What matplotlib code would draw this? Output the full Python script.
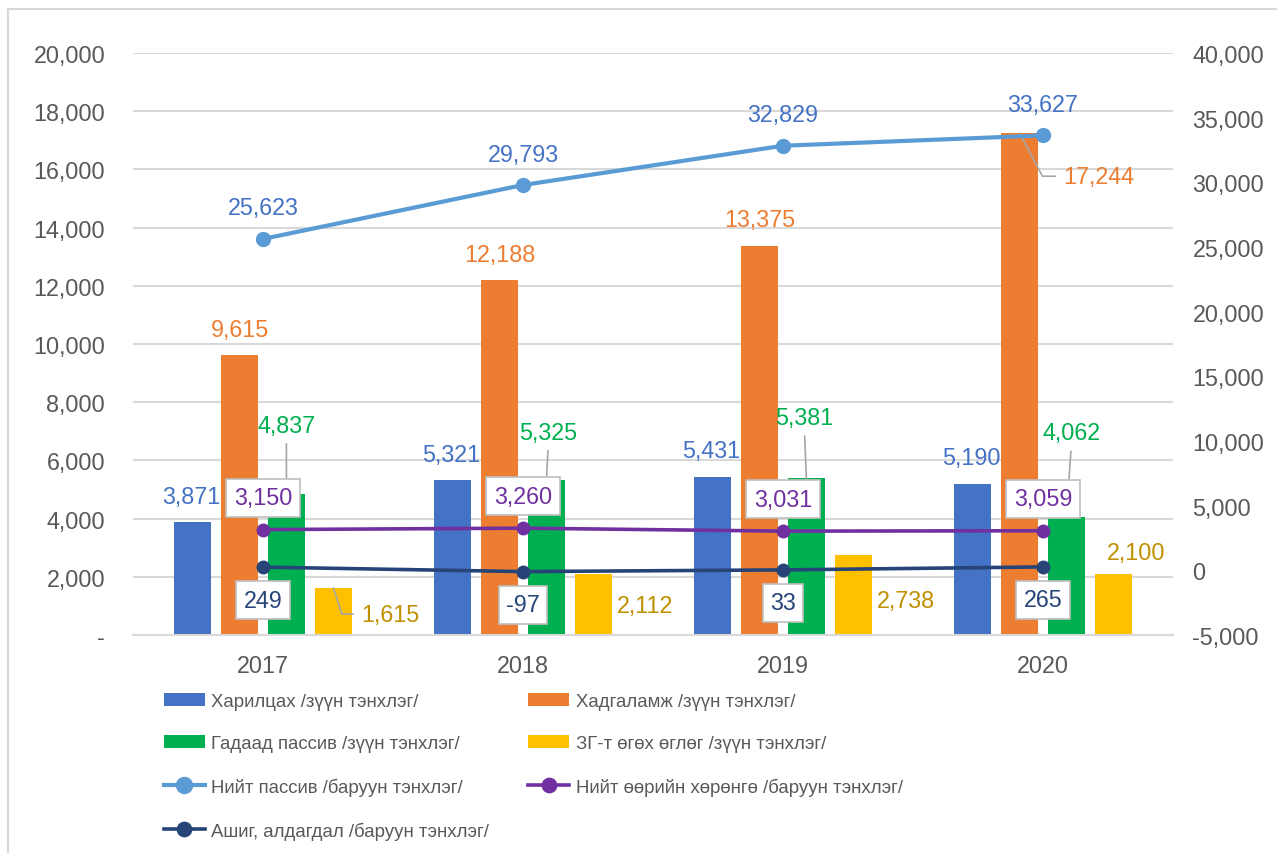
import matplotlib.pyplot as plt
import numpy as np
from matplotlib.lines import Line2D
from matplotlib.ticker import FuncFormatter

plt.rcParams['font.family'] = ['Liberation Sans', 'DejaVu Sans']

years = ['2017', '2018', '2019', '2020']
harilcah = [3871, 5321, 5431, 5190]
hadgalamj = [9615, 12188, 13375, 17244]
gadaad = [4837, 5325, 5381, 4062]
zg_uglug = [1615, 2112, 2738, 2100]
niit_passiv = [25623, 29793, 32829, 33627]
niit_ooriin = [3150, 3260, 3031, 3059]
ashig = [249, -97, 33, 265]

bar_names = ['Харилцах /зүүн тэнхлэг/', 'Хадгаламж /зүүн тэнхлэг/',
             'Гадаад пассив /зүүн тэнхлэг/', 'ЗГ-т өгөх өглөг /зүүн тэнхлэг/']
line_names = ['Нийт пассив /баруун тэнхлэг/', 'Нийт өөрийн хөрөнгө /баруун тэнхлэг/',
              'Ашиг, алдагдал /баруун тэнхлэг/']

c_blue = '#4472C4'
c_orange = '#ED7D31'
c_green = '#00B050'
c_yellow = '#FFC000'
c_lblue = '#5B9BD5'
c_purple = '#7030A0'
c_navy = '#264478'
grid_c = '#D9D9D9'
txt_c = '#595959'
lead_c = '#A6A6A6'
fs = 16.8

fig = plt.figure(figsize=(12.77, 8.54), dpi=100)
ax = fig.add_axes([133 / 1277, 1 - 636 / 854, 1040 / 1277, 582 / 854])
ax2 = ax.twinx()

x = np.arange(len(years))
w = 0.142
offs = [-0.271, -0.09, 0.09, 0.271]
bar_data = [harilcah, hadgalamj, gadaad, zg_uglug]
bar_cols = [c_blue, c_orange, c_green, c_yellow]
bars = []
for d, o, c, n in zip(bar_data, offs, bar_cols, bar_names):
    bars.append(ax.bar(x + o, d, w, color=c, label=n, zorder=2))

ax.set_xlim(-0.5, 3.5)
ax.set_ylim(0, 20000)
ax.set_yticks(np.arange(0, 20001, 2000))
ax.yaxis.set_major_formatter(FuncFormatter(lambda v, p: '-' if v == 0 else f'{v:,.0f}'))
ax.set_xticks(x)
ax.set_xticklabels(years)
ax.grid(axis='y', color=grid_c, lw=1.5, zorder=0)
ax.set_axisbelow(True)
for s in ['top', 'right', 'left']:
    ax.spines[s].set_visible(False)
ax.spines['bottom'].set_color(grid_c)
ax.spines['bottom'].set_linewidth(1.5)
ax.tick_params(axis='y', length=0, pad=20, labelsize=fs, labelcolor=txt_c)
ax.tick_params(axis='x', length=0, pad=14, labelsize=fs, labelcolor=txt_c)

ax2.set_ylim(-5000, 40000)
ax2.set_yticks(np.arange(-5000, 40001, 5000))
ax2.yaxis.set_major_formatter(FuncFormatter(lambda v, p: f'{v:,.0f}'))
for s in ['top', 'right', 'left', 'bottom']:
    ax2.spines[s].set_visible(False)
ax2.tick_params(axis='y', length=0, pad=14, labelsize=fs, labelcolor=txt_c)

l1, = ax2.plot(x, niit_passiv, color=c_lblue, lw=3, marker='o', ms=10, label=line_names[0], zorder=3)
l2, = ax2.plot(x, niit_ooriin, color=c_purple, lw=2.6, marker='o', ms=9, label=line_names[1], zorder=3)
l3, = ax2.plot(x, ashig, color=c_navy, lw=2.6, marker='o', ms=9, label=line_names[2], zorder=3)

# bar value labels (pixel offsets from bar top)
lead = dict(arrowstyle='-', color=lead_c, lw=1.2, shrinkA=3, shrinkB=0)
for i in range(4):
    ax.annotate(f'{harilcah[i]:,}', (x[i] + offs[0], harilcah[i]), xytext=(-1, 26),
                textcoords='offset pixels', ha='center', va='center', color=c_blue, fontsize=fs)
for i in range(3):
    ax.annotate(f'{hadgalamj[i]:,}', (x[i] + offs[1], hadgalamj[i]), xytext=(0, 26),
                textcoords='offset pixels', ha='center', va='center', color=c_orange, fontsize=fs)
# 2020 sits right of the bar with a leader
ax.annotate(f'{hadgalamj[3]:,}', (x[3] + offs[1], hadgalamj[3]), xytext=(44, -43),
            textcoords='offset pixels', ha='left', va='center', color=c_orange, fontsize=fs,
            arrowprops=dict(lead, relpos=(0, 0.5), shrinkA=4,
                            connectionstyle='angle,angleA=0,angleB=-62,rad=0'))

green_off = [(0, 69), (2, 48), (-2, 61), (5, 84)]
for i in range(4):
    ax.annotate(f'{gadaad[i]:,}', (x[i] + offs[2], gadaad[i]), xytext=green_off[i],
                textcoords='offset pixels', ha='center', va='center', color=c_green, fontsize=fs,
                arrowprops=dict(lead, relpos=(0.5, 0)))

yc = '#BF9000'
ax.annotate(f'{zg_uglug[0]:,}', (x[0] + offs[3], zg_uglug[0]), xytext=(28, -26),
            textcoords='offset pixels', ha='left', va='center', color=yc, fontsize=fs,
            arrowprops=dict(lead, relpos=(0, 0.5), shrinkA=4,
                            connectionstyle='angle,angleA=0,angleB=-72,rad=0'))
yel_off = [None, (52, -32), (52, -45), (23, 21)]
for i in range(1, 4):
    ax.annotate(f'{zg_uglug[i]:,}', (x[i] + offs[3], zg_uglug[i]), xytext=yel_off[i],
                textcoords='offset pixels', ha='center', va='center', color=yc, fontsize=fs)

# line labels
for i in range(4):
    ax2.annotate(f'{niit_passiv[i]:,}', (x[i], niit_passiv[i]), xytext=(0, 31),
                 textcoords='offset pixels', ha='center', va='center', color=c_blue, fontsize=fs)
box = dict(boxstyle='square,pad=0.32', fc='white', ec='#BFBFBF', lw=1.2)
for i in range(4):
    ax2.annotate(f'{niit_ooriin[i]:,}', (x[i], niit_ooriin[i]), xytext=(0, 32),
                 textcoords='offset pixels', ha='center', va='center', color=c_purple,
                 fontsize=fs, bbox=box, zorder=5)
    ax2.annotate(f'{ashig[i]:,}', (x[i], ashig[i]), xytext=(0, -33),
                 textcoords='offset pixels', ha='center', va='center', color=c_navy,
                 fontsize=fs, bbox=box, zorder=5)

handles = [bars[0], bars[2], l1, l3, bars[1], bars[3], l2]
fig.legend(handles=handles, labels=[h.get_label() for h in handles], ncol=2,
           loc='upper left', bbox_to_anchor=(164 / 1277, 1 - 694 / 854), frameon=False,
           fontsize=13.4, labelcolor=txt_c, markerscale=1.15,
           handlelength=2.2, handletextpad=0.35, columnspacing=2.1,
           labelspacing=1.36, borderpad=0, borderaxespad=0)

# chart border
fig.add_artist(Line2D([8 / 1277, 8 / 1277], [0, 1 - 10 / 854], color='#D9D9D9', lw=1.5))
fig.add_artist(Line2D([8 / 1277, 1], [1 - 10 / 854, 1 - 10 / 854], color='#D9D9D9', lw=1.5))

fig.savefig('out.png', dpi=100)
